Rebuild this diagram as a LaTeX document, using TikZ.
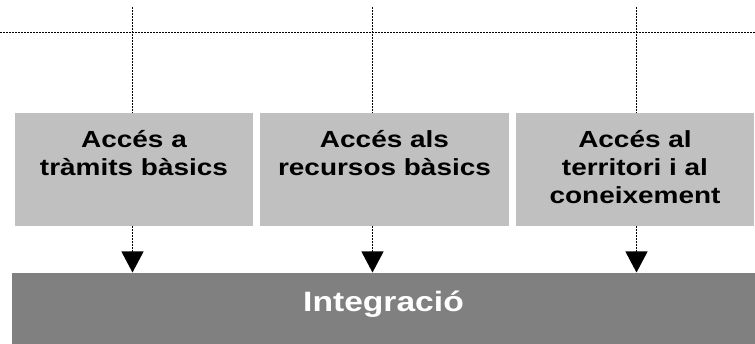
\documentclass[tikz,border=0pt]{standalone}
\usepackage{fontspec}
\setmainfont{Liberation Sans}
\newfontfamily\boxfont[FakeStretch=1.2]{Liberation Sans}
\usepackage{xcolor}
\usetikzlibrary{arrows.meta}
\definecolor{boxgray}{HTML}{C0C0C0}
\definecolor{bargray}{HTML}{808080}

\begin{document}
\begin{tikzpicture}[x=1pt,y=1pt,
    box/.style={fill=boxgray,inner sep=0pt,minimum height=113pt},
    boxtext/.style={anchor=north,inner sep=0pt,align=center,yshift=-17pt,
        font=\boxfont\bfseries\fontsize{23.3}{28.3}\selectfont},
    guide/.style={line width=1.1pt,dash pattern=on 1.6pt off 1.4pt},
    flow/.style={guide,-{Triangle[length=21pt,width=22pt]}}]
    \useasboundingbox (0,0) rectangle (755,344);
    \node[box,minimum width=238pt] (b1) at (134,174.5) {};
    \node[box,minimum width=249pt] (b2) at (384.5,174.5) {};
    \node[box,minimum width=238pt] (b3) at (635,174.5) {};
    \node[boxtext] (t1) at (b1.north) {Accés a\\tràmits bàsics};
    \node[boxtext] (t2) at (b2.north) {Accés als\\recursos bàsics};
    \node[boxtext] (t3) at (b3.north) {Accés al\\territori i al\\coneixement};
    \node[fill=bargray,inner sep=0pt,minimum width=743pt,minimum height=71.3pt,
        text height=20pt,text depth=13.3pt,text=white,
        font=\boxfont\bfseries\fontsize{28}{34}\selectfont] (bar) at (383.5,35.65) {Integració};
    \coordinate (h1) at (0,311.5);
    \coordinate (h2) at (755,311.5);
    \draw[guide] (h1) -- (h2);
    \coordinate (v1) at (132.5,337);
    \coordinate (v2) at (372.5,337);
    \coordinate (v3) at (636.5,337);
    \draw[guide] (v1) -- (v1 |- b1.north);
    \draw[guide] (v2) -- (v2 |- b2.north);
    \draw[guide] (v3) -- (v3 |- b3.north);
    \draw[flow] (v1 |- b1.south) -- (v1 |- bar.north);
    \draw[flow] (v2 |- b2.south) -- (v2 |- bar.north);
    \draw[flow] (v3 |- b3.south) -- (v3 |- bar.north);
\end{tikzpicture}
\end{document}
